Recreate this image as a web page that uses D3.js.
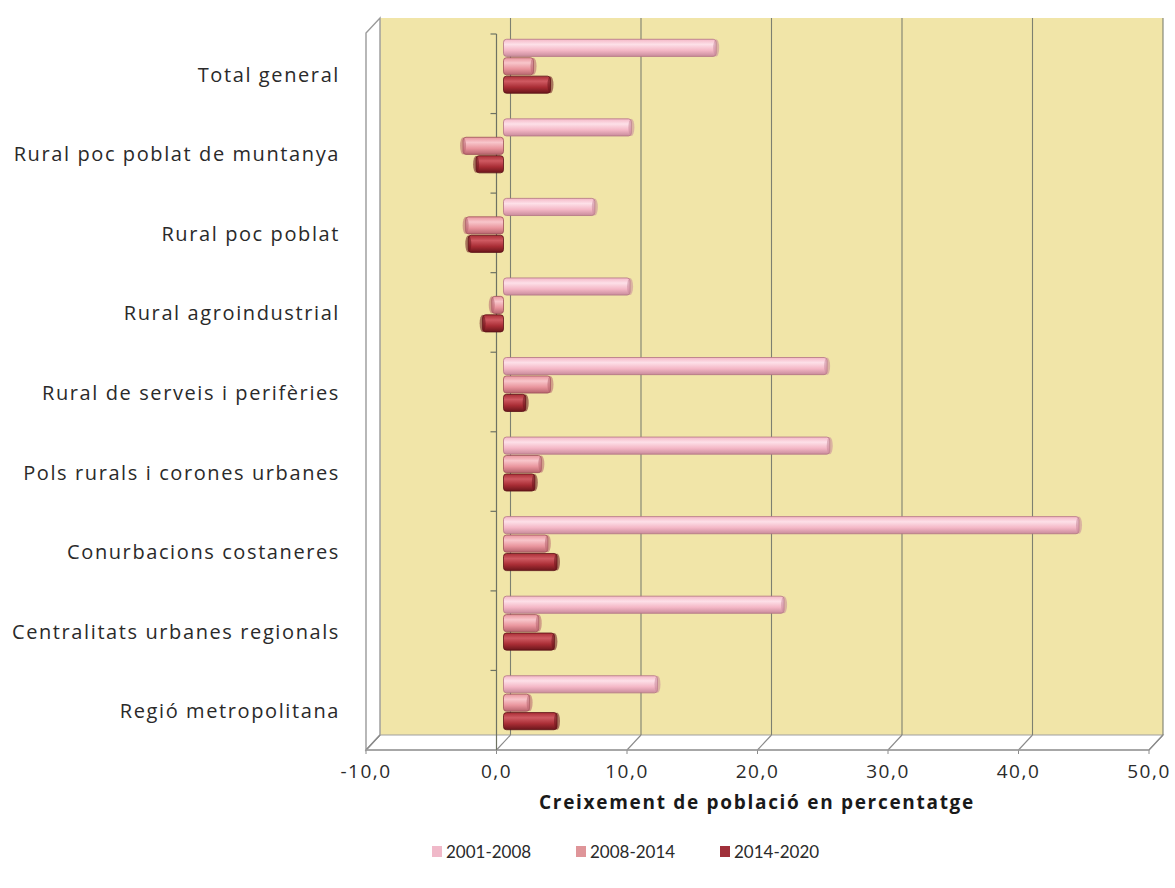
<!DOCTYPE html>
<html>
<head>
<meta charset="utf-8">
<script src="https://cdn.jsdelivr.net/npm/d3@7"></script>
<style>
  html, body { margin: 0; padding: 0; background: #ffffff; }
  svg { display: block; }
</style>
</head>
<body>
<svg id="chart" width="1175" height="888"></svg>
<script>
// ---- Data ----
const categories = [
  "Total general",
  "Rural poc poblat de muntanya",
  "Rural poc poblat",
  "Rural agroindustrial",
  "Rural de serveis i perifèries",
  "Pols rurals i corones urbanes",
  "Conurbacions costaneres",
  "Centralitats urbanes regionals",
  "Regió metropolitana"
];
const seriesNames = ["2001-2008", "2008-2014", "2014-2020"];
const values2001_2008 = [16.3, 9.8, 7.0, 9.7, 24.8, 25.0, 44.1, 21.5, 11.8];
const values2008_2014 = [2.3, -3.1, -2.9, -0.9, 3.6, 2.9, 3.4, 2.7, 2.0];
const values2014_2020 = [3.6, -2.1, -2.7, -1.6, 1.7, 2.4, 4.1, 3.9, 4.1];
const xTicks = [-10, 0, 10, 20, 30, 40, 50];
const xTitle = "Creixement de població en percentatge";

const seriesValues = [values2001_2008, values2008_2014, values2014_2020];

// ---- Layout ----
const svg = d3.select("#chart");
const depthX = 14, depthY = -15;   // 3D offset: front -> back wall
const frontLeft = 366, frontRight = 1149;
const frontTop = 34, frontBottom = 750;
const FONT = "'Open Sans', Lato, sans-serif";

const x = d3.scaleLinear().domain([-10, 50]).range([frontLeft, frontRight]);
const y = d3.scaleBand().domain(categories).range([frontTop, frontBottom]);
const sub = d3.scaleBand().domain(seriesNames).range([0, 54]).paddingInner(0.07);

const palette = [
  { hi: "#fde0e8", base: "#f4b7c6", lo: "#c98b9b", edge: "#b27584", legend: "#f0b9c9" },
  { hi: "#f8c6cb", base: "#e9959d", lo: "#b7656e", edge: "#9c5059", legend: "#df9599" },
  { hi: "#cf5a62", base: "#a92d35", lo: "#6a161b", edge: "#5a1217", legend: "#a0303a" }
];

const defs = svg.append("defs");
palette.forEach((p, i) => {
  const g = defs.append("linearGradient")
    .attr("id", "grad" + i).attr("x1", 0).attr("y1", 0).attr("x2", 0).attr("y2", 1);
  g.append("stop").attr("offset", "0%").attr("stop-color", p.base);
  g.append("stop").attr("offset", "30%").attr("stop-color", p.hi);
  g.append("stop").attr("offset", "65%").attr("stop-color", p.base);
  g.append("stop").attr("offset", "100%").attr("stop-color", p.lo);
});

const [x0, x1] = x.range();
const bx0 = x0 + depthX, bx1 = x1 + depthX;
const by0 = frontTop - 16 , by1 = frontBottom + depthY;

// Back wall
svg.append("rect")
  .attr("x", bx0).attr("y", by0)
  .attr("width", bx1 - bx0).attr("height", by1 - by0)
  .attr("fill", "#f1e5a8");

// Floor (white) outline
svg.append("path")
  .attr("d", `M${x0},${frontBottom} L${bx0},${by1} L${bx1},${by1} L${x1},${frontBottom} Z`)
  .attr("fill", "#ffffff").attr("stroke", "#a0a0a0").attr("stroke-width", 1.2);

// Left side wall
svg.append("path")
  .attr("d", `M${x0},${frontBottom} L${x0},${by0 - depthY} L${bx0},${by0} L${bx0},${by1} Z`)
  .attr("fill", "#ffffff").attr("stroke", "#9a9a9a").attr("stroke-width", 1.4);

// Gridlines on back wall + floor connectors
xTicks.forEach(t => {
  const fx = x(t), bx = fx + depthX;
  if (t !== -10) {
    svg.append("line")
      .attr("x1", bx).attr("x2", bx).attr("y1", by0).attr("y2", by1)
      .attr("stroke", "#7d8070").attr("stroke-width", 1.1);
  }
  svg.append("line")
    .attr("x1", fx).attr("y1", frontBottom).attr("x2", bx).attr("y2", by1)
    .attr("stroke", "#8a8a8a").attr("stroke-width", 1.1);
  svg.append("line")
    .attr("x1", fx).attr("y1", frontBottom).attr("x2", fx).attr("y2", frontBottom + 4)
    .attr("stroke", "#8a8a8a").attr("stroke-width", 1);
});
// Front axis line
svg.append("line")
  .attr("x1", x0).attr("x2", x1).attr("y1", frontBottom).attr("y2", frontBottom)
  .attr("stroke", "#9a9a9a").attr("stroke-width", 1.4);

// Category axis (at front zero)
const cx = x(0);
svg.append("line")
  .attr("x1", cx).attr("x2", cx).attr("y1", frontTop).attr("y2", frontBottom)
  .attr("stroke", "#6e7262").attr("stroke-width", 1.2);
categories.forEach(c => {
  svg.append("line")
    .attr("x1", cx - 6).attr("x2", cx).attr("y1", y(c)).attr("y2", y(c))
    .attr("stroke", "#6e7262").attr("stroke-width", 1.2);
});

// Bars (mid depth)
const midX = depthX / 2, midY = depthY / 2;
const bars = svg.append("g");
categories.forEach((c, ci) => {
  seriesValues.forEach((vals, si) => {
    const v = vals[ci];
    const xa = x(Math.min(0, v)) + midX;
    const xb = x(Math.max(0, v)) + midX;
    const yt = y(c) + (y.bandwidth() - 54) / 2 + sub(seriesNames[si]) + midY;
    const h = sub.bandwidth();
    const p = palette[si];
    bars.append("rect")
      .attr("x", xa).attr("y", yt)
      .attr("width", Math.max(1, xb - xa)).attr("height", h)
      .attr("rx", 3).attr("ry", 3)
      .attr("fill", `url(#grad${si})`)
      .attr("stroke", p.edge).attr("stroke-width", 0.8);
    const capX = v >= 0 ? xb : xa;
    bars.append("ellipse")
      .attr("cx", capX).attr("cy", yt + h / 2)
      .attr("rx", 3).attr("ry", h / 2)
      .attr("fill", p.lo).attr("opacity", 0.55);
  });
});

// Category labels
svg.append("g").selectAll("text")
  .data(categories).join("text")
  .attr("x", 340)
  .attr("y", d => y(d) + y.bandwidth() / 2 + 1)
  .attr("dy", "0.35em")
  .attr("text-anchor", "end")
  .attr("font-family", FONT)
  .attr("font-size", 20)
  .attr("letter-spacing", 1.6)
  .attr("fill", "#2a2a2a")
  .text(d => d);

// X tick labels
svg.append("g").selectAll("text")
  .data(xTicks).join("text")
  .attr("x", d => x(d))
  .attr("y", 778)
  .attr("text-anchor", "middle")
  .attr("font-family", FONT)
  .attr("font-size", 19)
  .attr("letter-spacing", 1.5)
  .attr("fill", "#2a2a2a")
  .text(d => d3.format(".1f")(d).replace("−", "-").replace(".", ","));

// X title
svg.append("text")
  .attr("x", 757).attr("y", 809)
  .attr("text-anchor", "middle")
  .attr("font-family", FONT)
  .attr("font-weight", "bold")
  .attr("font-size", 19)
  .attr("letter-spacing", 1.7)
  .attr("fill", "#1a1a1a")
  .text(xTitle);

// Legend
const legendX = [432, 576, 720];
const leg = svg.append("g");
seriesNames.forEach((s, i) => {
  leg.append("rect")
    .attr("x", legendX[i]).attr("y", 846)
    .attr("width", 10).attr("height", 11)
    .attr("fill", palette[i].legend);
  leg.append("text")
    .attr("x", legendX[i] + 14).attr("y", 852)
    .attr("dy", "0.35em")
    .attr("font-family", "Lato, 'Open Sans', sans-serif")
    .attr("font-size", 17)
    .attr("fill", "#2a2a2a")
    .text(s);
});
</script>
</body>
</html>
